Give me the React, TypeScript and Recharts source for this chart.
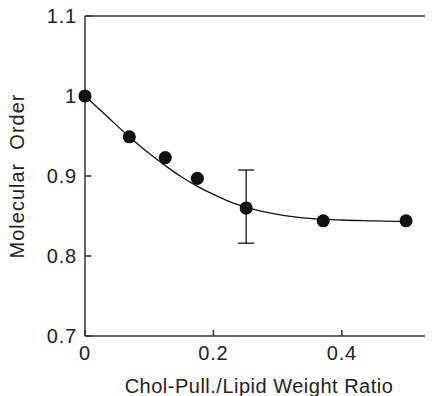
import { ComposedChart, Line, Scatter, XAxis, YAxis, ZAxis, ErrorBar, ReferenceLine } from 'recharts'

// measured points (weight ratio vs molecular order)
const ratio = [0, 0.069, 0.125, 0.175, 0.251, 0.371, 0.5]
const order = [1.0, 0.949, 0.923, 0.897, 0.86, 0.844, 0.844]
// only the 0.25 point carries an error bar: [below, above]
const errors: ([number, number] | null)[] = [null, null, null, null, [0.044, 0.0475], null, null]

// fitted curve
const fitX = [0, 0.035, 0.069, 0.1, 0.125, 0.15, 0.175, 0.2, 0.225, 0.25, 0.3, 0.35, 0.4, 0.45, 0.5]
const fitY = [1.0, 0.974, 0.949, 0.928, 0.913, 0.899, 0.887, 0.877, 0.868, 0.861, 0.852, 0.847, 0.845, 0.844, 0.843]

const xTicks = [0, 0.2, 0.4]
const yTicks = [0.7, 0.8, 0.9, 1, 1.1]

const points = ratio.map((x, i) => ({ x, y: order[i], err: errors[i] }))
const fit = fitX.map((x, i) => ({ x, y: fitY[i] }))

const font = '"Liberation Sans", Arial, Helvetica, sans-serif'
const ink = '#222'
const axisColor = '#333'

export default function App() {
  return (
    <div style={{ margin: '-8px 0 0 -8px', width: 433, height: 396, background: '#fff' }}>
      <ComposedChart
        width={433}
        height={396}
        margin={{ top: 16, right: 0, bottom: 0, left: 0 }}
      >
        <XAxis
          type="number"
          dataKey="x"
          domain={[0, 0.542]}
          ticks={xTicks}
          interval={0}
          height={60}
          stroke={axisColor}
          strokeWidth={1.5}
          tickSize={-6}
          tickMargin={16}
          tick={{ fontSize: 20, fontFamily: font, fill: ink, letterSpacing: 0.8 }}
          label={{
            value: 'Chol-Pull./Lipid Weight Ratio',
            position: 'insideBottom',
            offset: 3,
            style: { fontSize: 20, fontFamily: font, fill: ink, letterSpacing: 0.5 },
          }}
        />
        <YAxis
          type="number"
          dataKey="y"
          domain={[0.7, 1.1]}
          ticks={yTicks}
          interval={0}
          width={85}
          stroke={axisColor}
          strokeWidth={1.5}
          tickSize={-6}
          tickMargin={14}
          tick={{ fontSize: 20, fontFamily: font, fill: ink, letterSpacing: 0.8 }}
          label={{
            value: 'Molecular\u00a0 Order',
            angle: -90,
            position: 'insideLeft',
            offset: 17,
            style: { textAnchor: 'middle', fontSize: 20, fontFamily: font, fill: ink, letterSpacing: 1 },
          }}
        />
        <ZAxis range={[135, 135]} />
        <ReferenceLine y={1.1} stroke={axisColor} strokeWidth={1.5} />
        <Line
          data={fit}
          dataKey="y"
          type="monotone"
          stroke="#111"
          strokeWidth={1.3}
          dot={false}
          activeDot={false}
          isAnimationActive={false}
        />
        <Scatter data={points} dataKey="y" fill="#111" shape="circle" isAnimationActive={false}>
          <ErrorBar dataKey="err" direction="y" width={8} stroke="#111" strokeWidth={1.3} />
        </Scatter>
      </ComposedChart>
    </div>
  )
}
